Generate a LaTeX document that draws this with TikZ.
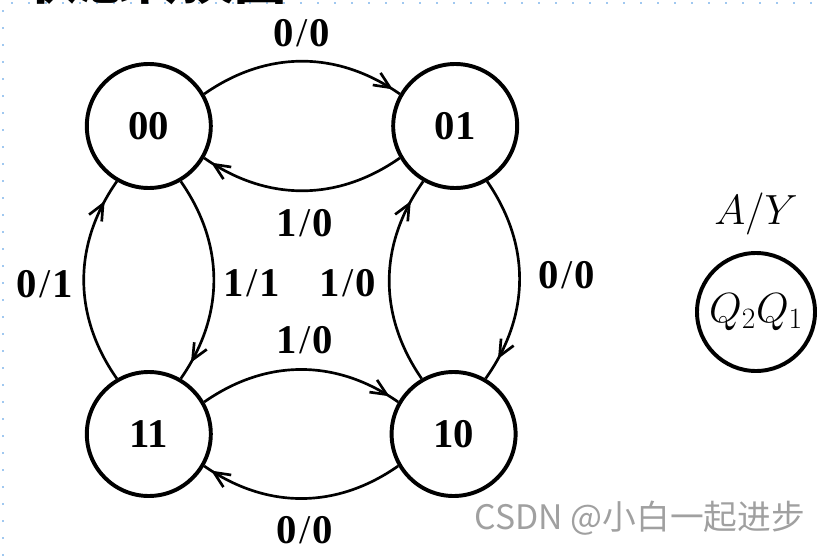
\RequirePackage{fix-cm}
\documentclass[tikz,border=0pt]{standalone}
\usepackage{fontspec}
\setmainfont{Liberation Serif}
\newfontfamily\cjkfont{Noto Sans CJK SC}
\usetikzlibrary{arrows.meta,decorations.markings}
\definecolor{guide}{RGB}{160,200,240}
\definecolor{wmgray}{RGB}{160,160,160}
\newcommand{\inout}[2]{#1\kern1.5pt{\mdseries/}\kern1.5pt#2}
\tikzset{
  state/.style  = {circle, draw, line width=2.8pt, minimum size=31mm, inner sep=0pt,
                   font=\fontsize{29}{34}\selectfont\bfseries},
  key/.style    = {circle, draw, line width=2.8pt, minimum size=29.5mm, inner sep=0pt},
  lab/.style    = {font=\fontsize{29}{34}\selectfont\bfseries, inner sep=1pt},
  sym/.style    = {font=\fontsize{30}{36}\selectfont, inner sep=1pt},
  edge/.style   = {line width=1.9pt, postaction={decorate},
                   decoration={markings, mark=at position #1 with
                   {\arrow{Straight Barb[length=4mm,width=3.6mm]}}}},
  edge/.default = 0.93,
  guideline/.style = {line width=1.5pt, color=guide, dash pattern=on 0.5mm off 3.75mm},
}

\begin{document}
\begin{tikzpicture}
  \useasboundingbox (0,0) rectangle (20.575,13.9);

  % guide dots of the page
  \draw[guideline] (0.075,0) -- (0.075,13.825) -- (20.575,13.825);
  \node[anchor=base west, inner sep=0pt,
        font=\fontsize{37}{40}\selectfont\cjkfont\bfseries] (title) at (0.65,13.91) {状态转换图};

  \node[state] (s00) at (3.72,10.75) {00};
  \node[state] (s01) at (11.38,10.75) {01};
  \node[state] (s11) at (3.72,3.05)  {11};
  \node[state] (s10) at (11.34,3.05) {10};

  \draw[edge=0.96] (s00.30)  to[bend left=35] (s01.150);
  \draw[edge=0.96] (s01.210) to[bend left=35] (s00.-30);
  \draw[edge=0.95] (s11.30)  to[bend left=35] (s10.150);
  \draw[edge=0.96] (s10.210) to[bend left=35] (s11.-30);
  \draw[edge=0.89] (s11.120) to[bend left=35] (s00.240);
  \draw[edge=0.91] (s00.-60) to[bend left=35] (s11.60);
  \draw[edge=0.89] (s10.120) to[bend left=35] (s01.240);
  \draw[edge=0.89] (s01.-60) to[bend left=35] (s10.60);

  \node[lab] (l1) at (7.55,13.075) {\inout{0}{0}};
  \node[lab] (l2) at (7.62,8.325)  {\inout{1}{0}};
  \node[lab] (l3) at (6.3,6.825)   {\inout{1}{1}};
  \node[lab] (l4) at (8.7,6.825)   {\inout{1}{0}};
  \node[lab] (l5) at (7.62,5.4)    {\inout{1}{0}};
  \node[lab] (l6) at (1.125,6.8)   {\inout{0}{1}};
  \node[lab] (l7) at (14.175,7.025) {\inout{0}{0}};
  \node[lab] (l8) at (7.62,0.65)   {\inout{0}{0}};

  % key
  \node[key] (k) at (18.9,6.1) {};
  \node[sym] (kq) at (k) {$Q_2Q_1$};
  \node[sym] (ky) at (18.9,8.55) {$A/Y$};

  \node[font=\fontsize{24}{27}\selectfont\cjkfont, text=wmgray] (wm) at (16.0,0.95) {CSDN @小白一起进步};
\end{tikzpicture}
\end{document}
